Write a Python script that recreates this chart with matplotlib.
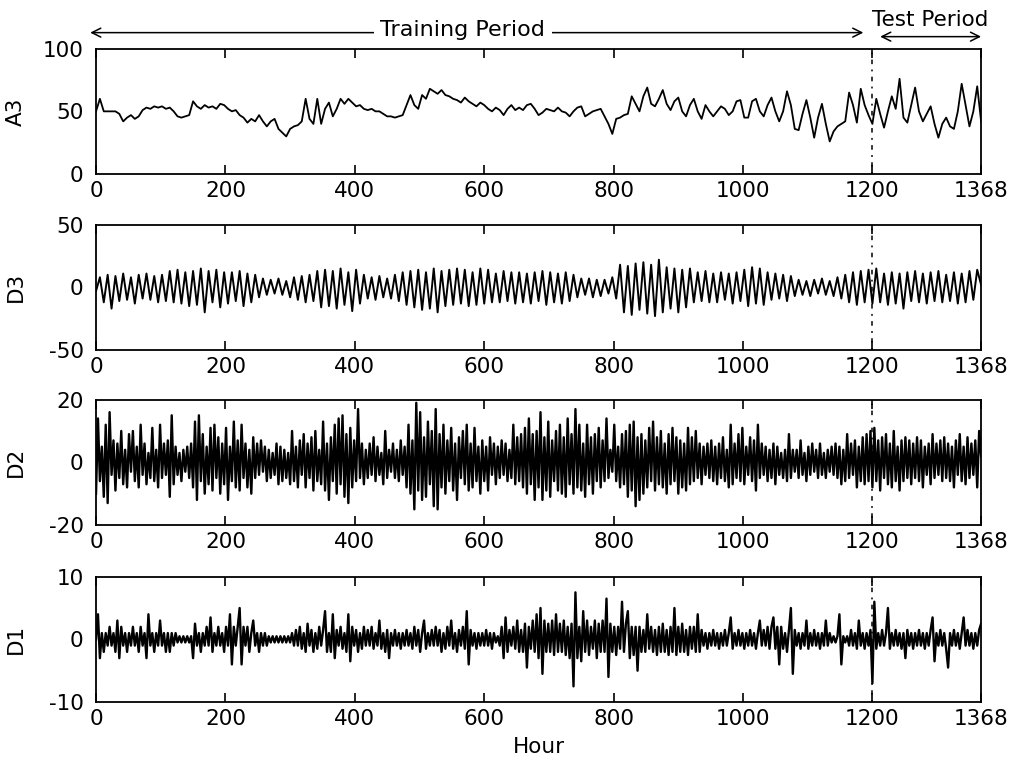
import matplotlib
matplotlib.use('Agg')
import matplotlib.pyplot as plt
import numpy as np

plt.rcParams['font.family'] = ['DejaVu Sans']
plt.rcParams['axes.unicode_minus'] = False

# wavelet components
# A3: one value every 6 hours
stepA3 = 6
A3 = [50, 60, 50, 50, 50, 50, 48, 42, 45, 47, 44, 46, 51, 53, 52, 54, 53, 54, 52, 53,
      50, 46, 45, 46, 47, 58, 54, 52, 55, 53, 54, 52, 56, 55, 52, 50, 51, 47, 45, 41,
      44, 42, 47, 42, 38, 42, 44, 36, 33, 30, 36, 38, 39, 42, 60, 44, 40, 60, 40, 52,
      57, 46, 52, 60, 56, 60, 57, 54, 55, 52, 51, 52, 50, 50, 48, 46, 46, 45, 46, 47,
      55, 63, 55, 52, 63, 60, 68, 66, 64, 67, 63, 62, 60, 59, 57, 61, 58, 56, 54, 57,
      55, 52, 50, 53, 51, 47, 52, 55, 51, 53, 51, 55, 56, 52, 47, 49, 52, 51, 50, 53,
      50, 49, 46, 50, 53, 54, 46, 48, 50, 51, 52, 46, 40, 32, 44, 45, 47, 48, 62, 56,
      50, 62, 69, 56, 54, 60, 67, 56, 51, 58, 61, 50, 46, 55, 60, 50, 44, 55, 50, 46,
      50, 54, 52, 47, 50, 58, 59, 45, 45, 58, 60, 50, 46, 55, 61, 50, 42, 50, 66, 55,
      36, 35, 48, 59, 45, 29, 45, 56, 40, 26, 34, 38, 40, 42, 65, 55, 41, 68, 55, 47,
      40, 60, 48, 37, 50, 62, 52, 76, 45, 41, 55, 69, 50, 42, 48, 54, 40, 29, 40, 45,
      38, 36, 50, 72, 55, 38, 50, 70, 42]

# D3: one value every 6 hours
stepD3 = 6
D3 = [-3, 8, -12, 10, -17, 9, -11, 11, -10, 8, -13, 10, -9, 11, -10, 9, -12, 10, -11, 13,
      -12, 14, -13, 12, -15, 13, -14, 15, -20, 13, -12, 14, -16, 12, -13, 12, -11, 13, -15, 11,
      -12, 10, -8, 7, -6, 6, -5, 7, -6, 5, -8, 8, -10, 9, -12, 10, -11, 13, -16, 14,
      -15, 13, -17, 15, -14, 12, -19, 14, -13, 10, -9, 8, -10, 9, -8, 7, -9, 10, -11, 12,
      -14, 13, -16, 14, -18, 12, -17, 15, -20, 13, -15, 14, -14, 15, -13, 14, -15, 12, -14, 15,
      -13, 14, -12, 11, -12, 13, -11, 12, -13, 12, -12, 11, -13, 12, -11, 13, -14, 12, -12, 11,
      -13, 12, -11, 10, -8, 7, -6, 7, -8, 6, -7, 6, -5, 8, -9, 18, -20, 17, -22, 19,
      -18, 20, -21, 18, -23, 22, -20, 16, -17, 15, -20, 14, -16, 15, -12, 12, -11, 13, -12, 11,
      -12, 12, -10, 11, -13, 12, -11, 14, -15, 16, -13, 15, -14, 12, -10, 11, -9, 10, -11, 9,
      -7, 6, -6, 5, -7, 6, -5, 7, -6, 5, -7, 8, -9, 10, -12, 12, -14, 13, -12, 14,
      -13, 15, -12, 11, -14, 12, -13, 11, -17, 12, -11, 13, -12, 11, -13, 12, -11, 13, -12, 10,
      -11, 12, -13, 11, -12, 13, -10, 14, 2]

# D2: one value every 3 hours
stepD2 = 3
D2 = [-10, 14, -6, 5, -11, 12, -13, 16, -4, 7, -9, 6, -5, 10, -7, 4, -8, 9, -3, 10,
      -6, 5, -8, 12, -4, 6, -7, 3, -5, 11, -6, 4, -8, 12, -5, 6, -4, 7, -11, 15,
      -7, 5, -4, 3, -6, 4, -3, 5, -5, 6, -8, 13, -12, 15, -6, 9, -10, 5, -7, 11,
      -9, 12, -5, 8, -10, 6, -7, 11, -12, 5, -6, 13, -8, 7, -9, 12, -5, 6, -8, 4,
      -10, 8, -5, 6, -4, 7, -3, 5, -6, 4, -5, 3, -4, 6, -7, 5, -6, 4, -5, 3,
      -7, 10, -6, 5, -8, 7, -4, 9, -8, 6, -5, 8, -9, 10, -6, 4, -7, 13, -9, 6,
      -12, 8, -6, 12, -10, 14, -7, 15, -11, 9, -13, 11, -8, 7, -6, 17, -5, 6, -7, 4,
      -5, 6, -4, 8, -6, 5, -4, 3, -7, 10, -5, 4, -3, 6, -5, 4, -6, 7, -4, 5,
      -8, 12, -10, 7, -15, 19, -9, 16, -12, 8, -11, 13, -7, 10, -14, 17, -15, 9, -8, 12,
      -10, 7, -6, 11, -9, 6, -12, 8, -5, 10, -7, 12, -9, 6, -8, 11, -6, 5, -10, 7,
      -6, 5, -9, 8, -4, 6, -7, 5, -5, 7, -4, 6, -6, 4, -5, 12, -7, 8, -6, 9,
      -8, 11, -10, 14, -7, 9, -12, 10, -8, 16, -12, 8, -9, 13, -11, 7, -6, 10, -9, 12,
      -10, 8, -11, 14, -7, 9, -10, 17, -8, 12, -9, 6, -11, 12, -7, 8, -10, 9, -6, 11,
      -8, 7, -6, 14, -5, 4, -3, 12, -6, 5, -8, 9, -7, 10, -11, 12, -9, 13, -14, 8,
      -12, 9, -10, 7, -8, 11, -6, 13, -9, 8, -7, 10, -8, 6, -10, 9, -7, 11, -6, 8,
      -10, 7, -8, 6, -9, 11, -7, 8, -6, 10, -5, 6, -7, 5, -4, 6, -5, 7, -6, 5,
      -7, 6, -5, 8, -6, 4, -8, 12, -7, 6, -5, 9, -6, 11, -7, 5, -4, 8, -6, 7,
      -9, 12, -5, 6, -4, 5, -6, 4, -5, 6, -7, 5, -4, 3, -5, 4, -6, 9, -5, 4,
      -3, 4, -5, 7, -4, 3, -6, 5, -4, 6, -3, 4, -5, 6, -4, 3, -5, 4, -3, 5,
      -4, 6, -5, 5, -7, 4, -6, 9, -5, 6, -4, 7, -8, 5, -6, 8, -7, 9, -6, 10,
      -8, 11, -6, 7, -9, 8, -5, 9, -7, 6, -8, 10, -6, 5, -9, 7, -6, 8, -5, 7,
      -7, 6, -5, 8, -6, 7, -8, 5, -4, 6, -7, 9, -5, 6, -4, 7, -6, 8, -5, 6,
      -6, 5, -8, 7, -4, 9, -6, 5, -7, 8, -5, 6, -4, 7, -8, 10, 2]

# D1: one value every 3 hours
stepD1 = 3
D1 = [0, 4, -3, 1, -2, 1, -1, 2, -1, 1, -2, 3, -3, 2, -1, 1, -2, 1, -1, 2,
      -1, 1, -2, 2, -1, 1, -3, 4, -1, 1, -2, 1, -1, 3, -1, 1, -2, 1, -2, 1,
      -1, 1, -0.5, 0.5, -0.5, 0.5, -0.5, 0.5, -0.5, 0.5, -3, 2.5, -1, 1, -2, 1, -1, 2, -1, 3.5,
      -2, 1, -1, 2, -1, 1, -2, 2, -1, 4, -4, 2, -1, 2, 5, -4, 2, -1, 2, -2,
      1, 3, -1, 1, -2, 1, -1, 1, -1, 0.5, -0.5, 0.5, -0.5, 0.5, -0.5, 0.5, -0.5, 0.5, -0.5, 0.5,
      -0.5, 1, -1, 1.5, -1, 2, -1.5, 1, -2, 2.5, -1, 1.5, -2, 1, -1.5, 2, -1, 1.5, 4.5, -2,
      1, -2, 4, -3, 1.5, -1, 2, -1.5, 1, -2, 4, -3.5, 2, -1, 1.5, -2, 1, -1.5, 2, -1,
      1.5, -1, 2, -1.5, 1, -1, 3, -1.5, 1, -2, 1.5, -3, 1, -1, 1.5, -1, 1, -1.5, 1, -1,
      1.5, -1, 1, -1.5, 2, -1, 1.5, -2, 1, 3, -1.5, 1, -1, 1.5, -1, 2, -1, 1.5, -2, 1,
      -1.5, 2, -1, 3, -1.5, 1, -2, 1.5, -1, 2, -1.5, 4.5, -4, 1.5, -1, 1, -1.5, 1, -1, 1,
      -1, 1.5, -1, 1, -1.5, 1, -0.5, 0.5, -1, 2, -3, 3.5, -2, 1.5, -1, 2, -1.5, 3, -2, 1.5,
      -2, 2.5, -4.5, 2, -1.5, 3, -2, 4, -3, 5, -5.5, 3, -2, 2.5, -2, 3, -2.5, 4, -2, 2.5,
      -2, 3, -2.5, 2, -3, 2.5, -7.5, 7.5, -3, 2, -3.5, 4.5, -2, 3, -2.5, 2, -1.5, 3, -3, 2.5,
      -2, 3, -2, 6.5, -6, 2.5, -2, 2, -2.5, 2, -1.5, 6, -2, 2.5, 4.5, -3, 2, -2.5, 2, -5,
      2, -2, 1.5, -2, 4, -1.5, 2, -2, 1.5, -2.5, 2, -2, 2.5, -2, 1.5, -2.5, 2, -2, 5, -2.5,
      2, -2, 2.5, -2, 1.5, -2.5, 2, -1.5, 2, -2, 4, -2, 1.5, -1, 1, -1.5, 1, -1, 1.5, -1,
      1, -1.5, 1, -1, 1.5, -1, 1, 3.5, -1.5, 1, -1, 1.5, -1, 1, -1.5, 1, -1, 1.5, -1, 1,
      -1.5, 1, 3, -1, 1.5, -1, 2, -1.5, 2, 3.5, -1.5, 2, -4, 2, -1.5, 1, -2, 1.5, 5, -5.5,
      1.5, -1, 1, -1.5, 1, -1, 3, -1.5, 1, -1, 1.5, -1, 1, -1.5, 1, -1, 3, -1, 1, -0.5,
      0.5, -0.5, 0.5, 4, -4, 0.5, -0.5, 0.5, -1, 1.5, -1, 1, -1.5, 3, -1, 1, -1.5, 1, -1, 1.5,
      -7, 6, -1.5, 1, -1, 1.5, -1, 1, 5, -1.5, 1, -1, 1.5, -1, 1, -1.5, 1, -3, 1.5, -1,
      1, -1.5, 1, -1, 1.5, -1, 1, -1.5, 1, -1, 1.5, 3.5, -3.5, 1, -1, 1.5, -1, 1, -1.5, -4.5,
      1, -1, 1.5, -1, 1, -1.5, 1, 3.5, -1, 1.5, -1, 1, -1.5, 1, -1, 1.5, 2.5]

names = ['A3', 'D3', 'D2', 'D1']
series = [A3, D3, D2, D1]
steps = [stepA3, stepD3, stepD2, stepD1]
lineWidths = [1.3, 1.4, 1.7, 1.7]
ylims = [(0, 100), (-50, 50), (-20, 20), (-10, 10)]
yticks = [[0, 50, 100], [-50, 0, 50], [-20, 0, 20], [-10, 0, 10]]
xticks = [0, 200, 400, 600, 800, 1000, 1200, 1368]
nHours = 1368
splitHour = 1200
fs = 15.5

f = plt.figure(figsize=(10.15, 7.69), dpi=100)

le = 0.0946
wd = 0.872
ht = 0.163
bottoms = [0.7737, 0.5449, 0.3173, 0.0871]

axs = []
for i in range(4):
    ax = f.add_axes([le, bottoms[i], wd, ht])
    y = np.array(series[i], dtype=float)
    x = np.arange(len(y)) * steps[i]
    ax.plot(x, y, color='black', lw=lineWidths[i])
    ax.axvline(splitHour, color='black', lw=1.1, linestyle=(0, (1.2, 3.5, 3, 3.5)))
    ax.set_xlim(0, nHours)
    ax.set_ylim(*ylims[i])
    ax.set_xticks(xticks)
    ax.set_yticks(yticks[i])
    ax.tick_params(axis='x', direction='in', top=True, length=6.5, width=1.2,
                   labelsize=fs, pad=5)
    ax.tick_params(axis='y', length=0, labelsize=fs, pad=9)
    for s in ax.spines.values():
        s.set_linewidth(1.3)
    ax.set_ylabel(names[i], fontsize=fs)
    ax.yaxis.set_label_coords(-0.079, 0.5)
    axs.append(ax)

axs[3].set_xlabel('Hour', fontsize=fs, labelpad=6)

# period arrows above the top panel
ax1 = axs[0]
trans = ax1.get_xaxis_transform()
arrowStyle = dict(arrowstyle='<->', color='black', lw=1.1,
                  mutation_scale=16, shrinkA=0, shrinkB=0)
ax1.annotate('', xy=(-9, 1.128), xytext=(1186, 1.128), xycoords=trans, textcoords=trans,
             arrowprops=arrowStyle, annotation_clip=False)
ax1.text(567, 1.15, 'Training Period', transform=trans, ha='center', va='center',
         fontsize=16, bbox=dict(facecolor='white', edgecolor='none', pad=5))
ax1.annotate('', xy=(1212, 1.096), xytext=(1368, 1.096), xycoords=trans, textcoords=trans,
             arrowprops=arrowStyle, annotation_clip=False)
ax1.text(1290, 1.23, 'Test Period', transform=trans, ha='center', va='center', fontsize=fs)

f.savefig('out.png', dpi=100)
